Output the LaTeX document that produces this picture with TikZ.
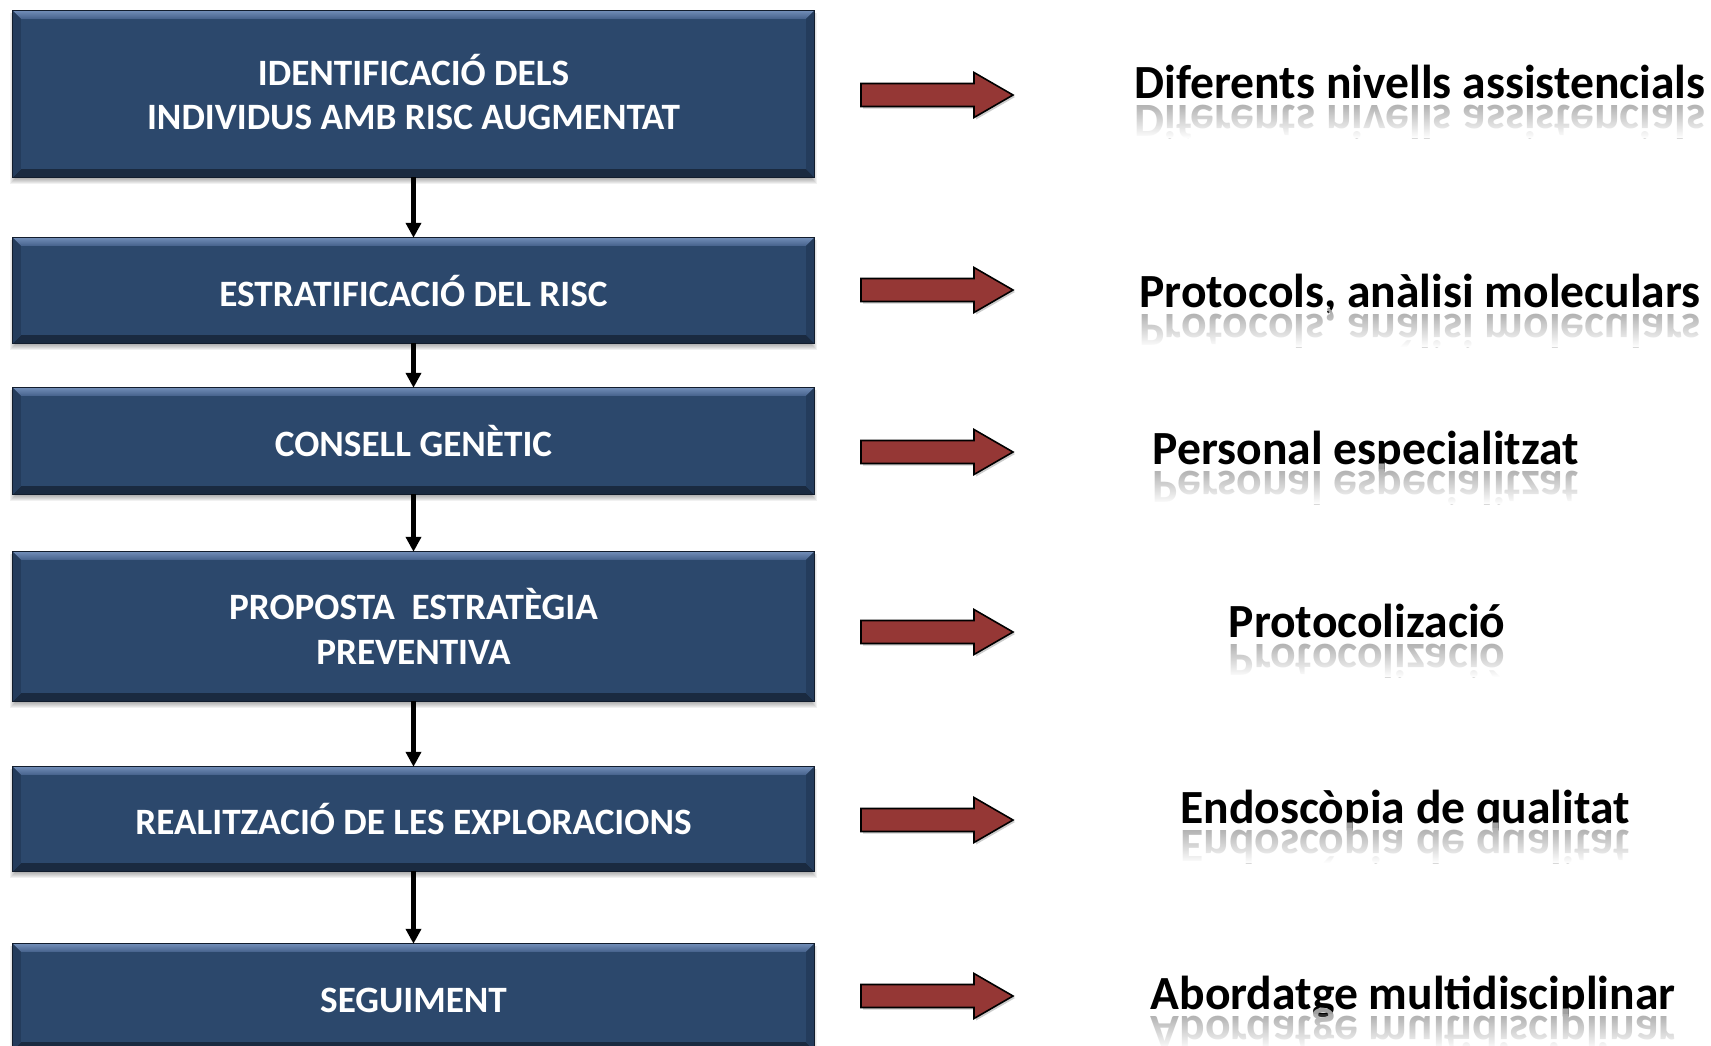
\documentclass[tikz,border=0pt]{standalone}
\usepackage{fontspec}
\setmainfont{Carlito}
\usetikzlibrary{arrows.meta,fadings,calc}
\pgfdeclarelayer{background}
\pgfsetlayers{background,main}
\definecolor{boxblue}{RGB}{44,72,108}
\definecolor{bevtoplight}{RGB}{112,140,182}
\definecolor{bevtop}{RGB}{70,98,140}
\definecolor{bevbot}{RGB}{26,42,64}
\definecolor{bevside}{RGB}{36,60,92}
\definecolor{arrred}{RGB}{149,55,53}
\definecolor{refgray}{RGB}{160,160,160}
\tikzfading[name=reflfade, top color=transparent!85, bottom color=transparent!0]
\tikzset{
  flowbox/.style={rectangle, fill=boxblue, minimum width=801pt, inner sep=0pt},
  boxlabel/.style={text=white, font=\bfseries\fontsize{37.2}{44.8}\selectfont, align=center},
  rtext/.style={inner sep=0pt, font=\bfseries\fontsize{47.6}{56}\selectfont},
  varrow/.style={line width=4.3pt, -{Triangle[width=15pt,length=15pt]}},
  blockarrow/.style={fill=arrred, draw=black, line width=1.6pt, line join=miter}
}
\newcommand\bevelbox[1]{%
  \fill[top color=bevtoplight, bottom color=bevtop] (#1.north west) -- (#1.north east)
     -- ([shift={(-8,8)}]#1.north east) -- ([shift={(8,8)}]#1.north west) -- cycle;
  \fill[bevbot] (#1.south west) -- (#1.south east)
     -- ([shift={(-8,-8)}]#1.south east) -- ([shift={(8,-8)}]#1.south west) -- cycle;
  \fill[bevside] (#1.north west) -- ([shift={(8,8)}]#1.north west)
     -- ([shift={(8,-8)}]#1.south west) -- (#1.south west) -- cycle;
  \fill[bevside] (#1.north east) -- ([shift={(-8,8)}]#1.north east)
     -- ([shift={(-8,-8)}]#1.south east) -- (#1.south east) -- cycle;
  \draw[bevbot!70!black, line width=0.8pt] (#1.north west) rectangle (#1.south east);
  \begin{pgfonlayer}{background}
    \foreach \k in {1,...,6}{
      \fill[black, opacity=0.055] ([shift={(3-\k,2)}]#1.north west) rectangle ([shift={(-3+\k,\k+1)}]#1.south east);
    }
  \end{pgfonlayer}
}
\newcommand\rtextpair[4]{%
  \node[rtext, anchor=base] (#1) at (#2,#3) {#4};
  \node[rtext, anchor=base, yscale=-1, text=refgray] (#1r) at (#2,#3+7) {#4};
  \fill[white, path fading=reflfade] ([shift={(-6,5)}]#1.base west) rectangle ([shift={(6,40)}]#1.base east);
}
\newcommand\redarrow[2]{% name, center y
  \coordinate (#1) at (937,#2);
  \fill[black, opacity=0.2] ([shift={(-74,-9.5)}]#1) -- ([shift={(39,-9.5)}]#1) -- ([shift={(39,-20.5)}]#1)
     -- ([shift={(78,2)}]#1) -- ([shift={(39,24.5)}]#1) -- ([shift={(39,13.5)}]#1) -- ([shift={(-74,13.5)}]#1) -- cycle;
  \draw[blockarrow] ([shift={(-76,-11.5)}]#1) -- ([shift={(37,-11.5)}]#1) -- ([shift={(37,-22.5)}]#1)
     -- ([shift={(76,0)}]#1) -- ([shift={(37,22.5)}]#1) -- ([shift={(37,11.5)}]#1) -- ([shift={(-76,11.5)}]#1) -- cycle;
}
\begin{document}
\begin{tikzpicture}[x=1pt,y=-1pt]
\begin{pgfonlayer}{background}
  \fill[white] (0,0) rectangle (1711,1045);
\end{pgfonlayer}
\useasboundingbox (0,0) rectangle (1711,1045);
\clip (0,0) rectangle (1711,1045);

\node[flowbox, minimum height=166pt] (b1) at (413.5,94) {};
\bevelbox{b1}
\node[boxlabel] (l1) at ([yshift=2pt]b1.center) {IDENTIFICACIÓ DELS\\INDIVIDUS AMB RISC AUGMENTAT};

\node[flowbox, minimum height=105pt] (b2) at (413.5,290.5) {};
\bevelbox{b2}
\node[boxlabel] (l2) at (b2.center) {ESTRATIFICACIÓ DEL RISC};

\node[flowbox, minimum height=106pt] (b3) at (413.5,441) {};
\bevelbox{b3}
\node[boxlabel] (l3) at (b3.center) {CONSELL GENÈTIC};

\node[flowbox, minimum height=149pt] (b4) at (413.5,626.5) {};
\bevelbox{b4}
\node[boxlabel] (l4) at (b4.center) {PROPOSTA\ \ ESTRATÈGIA\\PREVENTIVA};

\node[flowbox, minimum height=104pt] (b5) at (413.5,819) {};
\bevelbox{b5}
\node[boxlabel] (l5) at (b5.center) {REALITZACIÓ DE LES EXPLORACIONS};

\node[flowbox, minimum height=106pt] (b6) at (413.5,997) {};
\bevelbox{b6}
\node[boxlabel] (l6) at ([yshift=-3pt]b6.center) {SEGUIMENT};

\draw[varrow] (b1.south) -- (b2.north);
\draw[varrow] (b2.south) -- (b3.north);
\draw[varrow] (b3.south) -- (b4.north);
\draw[varrow] (b4.south) -- (b5.north);
\draw[varrow] (b5.south) -- (b6.north);

\redarrow{a1}{95}
\redarrow{a2}{290}
\redarrow{a3}{452}
\redarrow{a4}{632}
\redarrow{a5}{820}
\redarrow{a6}{996}

\rtextpair{t1}{1420}{98}{Diferents nivells assistencials}
\rtextpair{t2}{1420}{307}{Protocols, anàlisi moleculars}
\rtextpair{t3}{1366}{464}{Personal especialitzat}
\rtextpair{t4}{1367}{637}{Protocolizació}
\rtextpair{t5}{1405}{823}{Endoscòpia de qualitat}
\rtextpair{t6}{1413}{1009}{Abordatge multidisciplinar}
\end{tikzpicture}
\end{document}
